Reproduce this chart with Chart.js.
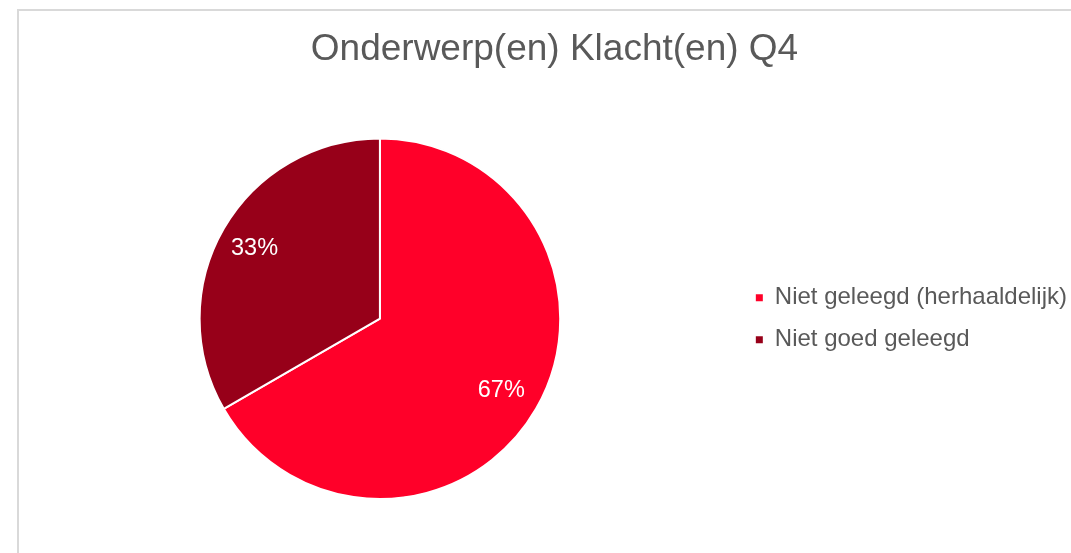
<!DOCTYPE html>
<html>
<head>
<meta charset="utf-8">
<script src="https://cdn.jsdelivr.net/npm/chart.js@4/dist/chart.umd.min.js"></script>
<style>
    html, body { margin: 0; padding: 0; background: #fff; overflow: hidden; }
    #frame {
        position: absolute; left: 17px; top: 9px; width: 2000px; height: 2000px;
        border-top: 2px solid #d9d9d9; border-left: 2px solid #d9d9d9;
    }
    #wrap { position: absolute; left: 0; top: 0; width: 1071px; height: 553px; }
</style>
</head>
<body>
<div id="frame"></div>
<div id="wrap"><canvas id="pieChart"></canvas></div>
<script>
// Chart data
const categories = ['Niet geleegd (herhaaldelijk)', 'Niet goed geleegd'];
const counts = [2, 1];
const sliceColors = ['#ff0029', '#970019'];

const FONT = "'Liberation Sans', Arial, sans-serif";

// Percent labels inside the slices
const sliceLabels = {
    id: 'sliceLabels',
    afterDatasetsDraw(chart) {
        const ctx = chart.ctx;
        const total = counts.reduce((a, b) => a + b, 0);
        chart.getDatasetMeta(0).data.forEach((arc, i) => {
            const p = arc.getProps(['x', 'y', 'startAngle', 'endAngle', 'outerRadius'], true);
            const mid = (p.startAngle + p.endAngle) / 2;
            const r = p.outerRadius * 0.79;
            ctx.save();
            ctx.fillStyle = '#ffffff';
            ctx.font = '23.5px ' + FONT;
            ctx.textAlign = 'center';
            ctx.textBaseline = 'middle';
            ctx.fillText(Math.round(counts[i] / total * 100) + '%', p.x + Math.cos(mid) * r - 2, p.y + Math.sin(mid) * r + 1);
            ctx.restore();
        });
    }
};

// Title is centred on the framed box, not on the canvas
const titleShift = {
    id: 'titleShift',
    afterLayout(chart) {
        chart.titleBlock.left += 5;
        chart.titleBlock.right += 5;
    }
};

new Chart(document.getElementById('pieChart'), {
    type: 'pie',
    data: {
        labels: categories,
        datasets: [{
            data: counts,
            backgroundColor: sliceColors,
            borderColor: '#ffffff',
            borderWidth: 2
        }]
    },
    options: {
        responsive: true,
        maintainAspectRatio: false,
        animation: false,
        layout: { padding: { left: 22, top: 0, right: -6, bottom: 53 } },
        plugins: {
            title: {
                display: true,
                text: 'Onderwerp(en) Klacht(en) Q4',
                color: '#595959',
                font: { family: FONT, size: 37, weight: 'normal' },
                padding: { top: 28, bottom: 65 }
            },
            legend: {
                position: 'right',
                fullSize: false,
                labels: {
                    boxWidth: 7,
                    boxHeight: 7,
                    padding: 18,
                    color: '#595959',
                    font: { family: FONT, size: 24 },
                    generateLabels(chart) {
                        const items = Chart.overrides.pie.plugins.legend.labels.generateLabels(chart);
                        items.forEach(it => { it.lineWidth = 0; it.strokeStyle = it.fillStyle; });
                        return items;
                    }
                }
            },
            tooltip: { enabled: false }
        }
    },
    plugins: [sliceLabels, titleShift]
});
</script>
</body>
</html>
